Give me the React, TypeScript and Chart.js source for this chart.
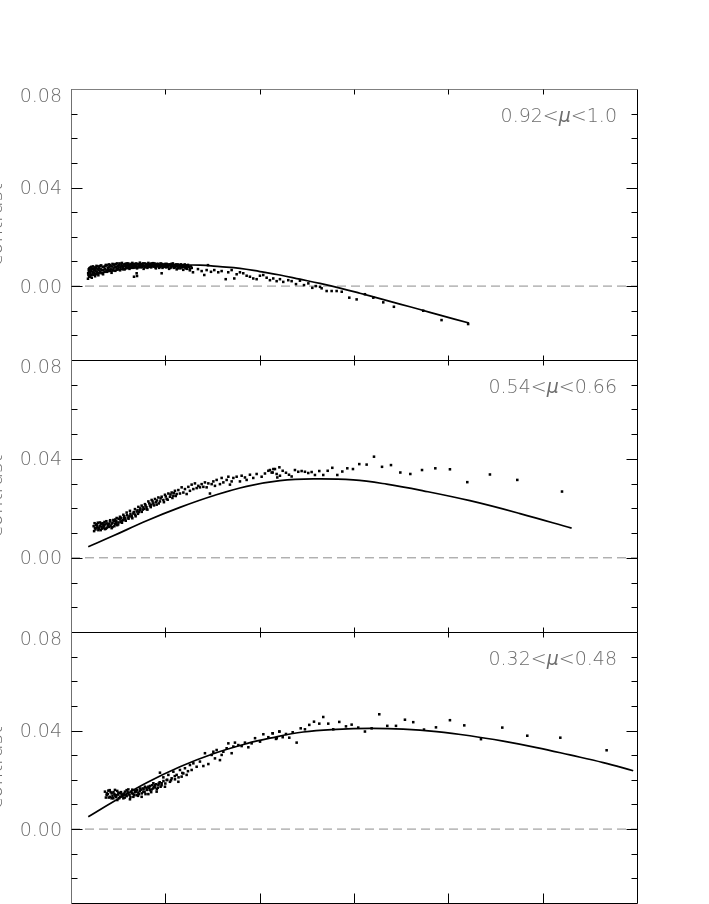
import React, { useEffect, useRef } from "react";
import { Chart, registerables } from "chart.js";

Chart.register(...registerables);

// ---------- axes ----------
const X_MIN = 0;
const X_MAX = 600;
const X_TICKS = [100, 200, 300, 400, 500];
const Y_MIN = -0.03;
const Y_MAX = 0.08;
const Y_MINOR_TICKS = [-0.02, -0.01, 0.0, 0.01, 0.02, 0.03, 0.04, 0.05, 0.06, 0.07];
const Y_MAJOR_TICKS = [0.0, 0.04];
const Y_TICK_LABELS = [0.08, 0.04, 0.0];
const Y_TITLE = "contrast";

// ---------- panel labels ----------
const PANEL_LABELS: string[][] = [
  ["0.92<", "μ", "<1.0"],
  ["0.54<", "μ", "<0.66"],
  ["0.32<", "μ", "<0.48"],
];

// ---------- panel 1 (0.92<mu<1.0) ----------
const P1_POINTS: number[][] = [
  [18, 0.003], [18.5, 0.0045], [19, 0.006], [19.5, 0.0072], [20, 0.0038], [20.5, 0.0052], [21, 0.0066],
  [21.5, 0.0078], [22, 0.0034], [23, 0.0058], [23.5, 0.007], [24, 0.0046], [25, 0.0076], [25.5, 0.004],
  [26, 0.0062], [27, 0.0082], [27.5, 0.005], [28, 0.0068], [29, 0.0044], [30, 0.0074], [31, 0.0056],
  [32, 0.0084], [33, 0.0064], [34, 0.0048], [35, 0.0078], [36, 0.007], [37, 0.0086], [38, 0.0058],
  [39, 0.0074], [40, 0.0088], [41, 0.0066], [42, 0.008], [43, 0.0054], [44, 0.009], [45, 0.0072],
  [46, 0.0084], [47, 0.0062], [48, 0.0078], [49, 0.0092], [50, 0.007], [51, 0.0086], [52, 0.0064],
  [53, 0.008], [54, 0.0094], [55, 0.0074], [56, 0.0088], [57, 0.0068], [58, 0.0082], [59, 0.0092],
  [60, 0.0076], [61, 0.0086], [62, 0.007], [63, 0.009], [64, 0.008], [65, 0.0094], [66, 0.0074],
  [67, 0.0086], [68, 0.0078], [69, 0.0092], [70, 0.0072], [71, 0.0088], [72, 0.0082], [73, 0.0095],
  [74, 0.0076], [75, 0.009], [76, 0.0084], [77, 0.007], [78, 0.0092], [79, 0.008], [80, 0.0088],
  [81, 0.0074], [82, 0.0094], [83, 0.0082], [84, 0.009], [85, 0.0076], [86, 0.0086], [87, 0.0093],
  [88, 0.0079], [89, 0.0088], [90, 0.0072], [91, 0.009], [92, 0.0082], [93, 0.0086], [94, 0.0078],
  [95, 0.0092], [96, 0.0084], [97, 0.0074], [98, 0.0088], [99, 0.008], [100, 0.009], [101, 0.0076],
  [102, 0.0086], [103, 0.0082], [104, 0.007], [105, 0.0088], [106, 0.0078], [107, 0.0084], [108, 0.0092],
  [109, 0.0074], [110, 0.0086], [111, 0.008], [112, 0.0068], [113, 0.0088], [114, 0.0076], [115, 0.0084],
  [116, 0.0072], [117, 0.0086], [118, 0.008], [119, 0.0066], [120, 0.0084], [121, 0.0076], [122, 0.0082],
  [123, 0.007], [124, 0.0086], [125, 0.0078], [126, 0.0064], [127, 0.008], [128, 0.0074],
  [18.2, 0.0052], [18.8, 0.0068], [19.3, 0.0038], [19.8, 0.0058], [20.3, 0.0075], [20.8, 0.0044],
  [21.3, 0.0061], [22.3, 0.007], [22.8, 0.0048], [23.3, 0.008], [24.3, 0.0064], [24.8, 0.0054],
  [25.3, 0.007], [26.3, 0.0048], [26.8, 0.0074], [27.3, 0.0058], [28.3, 0.008], [28.8, 0.0052],
  [29.3, 0.0066], [30.3, 0.006], [30.8, 0.0082], [31.5, 0.0068], [32.5, 0.0052], [33.5, 0.0078],
  [34.5, 0.0066], [35.5, 0.0058], [36.5, 0.0082], [37.5, 0.0064], [38.5, 0.0084], [39.5, 0.0066],
  [40.5, 0.0076], [41.5, 0.0086], [42.5, 0.0068], [43.5, 0.008], [44.5, 0.0064], [45.5, 0.0088],
  [46.5, 0.0076], [47.5, 0.009], [48.5, 0.007], [49.5, 0.0082], [50.5, 0.0078], [51.5, 0.0092],
  [52.5, 0.0074], [53.5, 0.0088], [54.5, 0.0082], [55.5, 0.0068], [56.5, 0.008], [57.5, 0.009],
  [58.5, 0.0074], [59.5, 0.0084], [60.5, 0.0092], [61.5, 0.0078], [62.5, 0.0084], [63.5, 0.0074],
  [64.5, 0.0088], [65.5, 0.0082], [66.5, 0.009], [67.5, 0.0076], [68.5, 0.0084], [69.5, 0.008],
  [70.5, 0.009], [71.5, 0.0076], [72.5, 0.0088], [73.5, 0.008], [74.5, 0.0086], [75.5, 0.0078],
  [76.5, 0.0092], [77.5, 0.0082], [78.5, 0.0076], [79.5, 0.009], [80.5, 0.008], [81.5, 0.0086],
  [82.5, 0.0078], [83.5, 0.0088], [84.5, 0.0082], [85.5, 0.0092], [86.5, 0.008], [87.5, 0.0085],
  [88.5, 0.0092], [89.5, 0.0076], [90.5, 0.0084], [91.5, 0.008], [92.5, 0.009], [93.5, 0.0074],
  [94.5, 0.0086], [95.5, 0.008], [96.5, 0.009], [97.5, 0.0082], [98.5, 0.0078], [99.5, 0.0086],
  [100.5, 0.0082], [101.5, 0.009], [102.5, 0.0078], [103.5, 0.0088], [104.5, 0.0084], [105.5, 0.0074],
  [106.5, 0.009], [107.5, 0.008], [108.5, 0.0086], [109.5, 0.0082], [110.5, 0.0076], [111.5, 0.0088],
  [112.5, 0.0082], [113.5, 0.0072], [114.5, 0.0086], [115.5, 0.008], [116.5, 0.0088], [117.5, 0.0076],
  [118.5, 0.0084], [119.5, 0.0078], [120.5, 0.0088], [121.5, 0.0072], [122.5, 0.0084],
  [66.8, 0.0038], [69.6, 0.0052], [70, 0.0041], [96.1, 0.0052],
  [122.6, 0.0078], [126.1, 0.0069], [129.3, 0.0056], [134.6, 0.0069], [138.5, 0.0061], [141.3, 0.0045],
  [143.8, 0.0065], [145.2, 0.0085], [148.4, 0.0058], [151.9, 0.0065], [156.1, 0.0056], [159.7, 0.0061],
  [164.0, 0.0028], [166.7, 0.0056], [170.3, 0.0065], [173.1, 0.0031], [175.6, 0.0048], [179.1, 0.0056],
  [182.6, 0.0052], [186.2, 0.0042], [189.7, 0.0038], [193.2, 0.0031], [196.8, 0.0028], [200.3, 0.0042],
  [203.8, 0.0045], [207.4, 0.0034], [210.9, 0.0024], [214.4, 0.0031], [218.0, 0.002], [221.5, 0.0028],
  [225.0, 0.0017], [230.3, 0.0024], [233.9, 0.002],
  [238.5, 0.0008], [242.7, 0.0022], [247.0, 0.0004], [251.6, 0.0011], [255.8, -0.0007], [259.4, 0.0],
  [264.0, -0.0003], [265.7, -0.0009], [271.0, -0.002], [276.3, -0.002], [281.6, -0.002], [287.0, -0.0023],
  [295.0, -0.0047], [302.8, -0.0054], [311.6, -0.0033], [320.5, -0.0047], [331.0, -0.0066],
  [342.3, -0.0084], [373.4, -0.01], [392.8, -0.0138], [421.0, -0.0154],
];
const P1_FIT: number[][] = [
  [18.0, 0.0041], [30.7, 0.0053], [51.9, 0.0067], [73.1, 0.0077], [94.3, 0.0083], [115.5, 0.0085],
  [136.7, 0.0085], [157.9, 0.0079], [179.1, 0.0072], [200.3, 0.0059], [221.5, 0.0045], [242.7, 0.0028],
  [263.9, 0.0011], [285.1, -0.0008], [306.3, -0.0029], [327.5, -0.0051], [348.7, -0.0073],
  [369.9, -0.0095], [391.1, -0.0118], [421.9, -0.015],
];

// ---------- panel 2 (0.54<mu<0.66) ----------
const P2_POINTS: number[][] = [
  [25.4, 0.012], [27.2, 0.0136], [29.0, 0.0112], [30.7, 0.0143], [32.5, 0.0126], [34.3, 0.0134],
  [36.0, 0.0116], [37.8, 0.0139], [39.6, 0.0128], [41.3, 0.0147], [43.1, 0.012], [44.9, 0.0153],
  [46.6, 0.0136], [48.4, 0.0161], [50.2, 0.0143], [51.9, 0.0166], [53.7, 0.015], [55.5, 0.0174],
  [57.2, 0.0155], [59.0, 0.0183], [60.8, 0.0163], [62.5, 0.019], [64.3, 0.017], [66.1, 0.0179],
  [67.8, 0.0197], [69.6, 0.0187], [71.4, 0.0206], [73.1, 0.0193], [74.9, 0.0211], [76.7, 0.0204],
  [78.4, 0.0217], [80.2, 0.0197], [82.0, 0.0228], [83.7, 0.0211], [85.5, 0.0234], [87.3, 0.022],
  [89.0, 0.0238], [90.8, 0.0215], [92.6, 0.0244], [94.3, 0.0228], [96.1, 0.0247], [97.9, 0.0234],
  [99.6, 0.0255], [101.4, 0.0238], [103.2, 0.026], [104.9, 0.0247], [106.7, 0.0264], [108.5, 0.0251],
  [110.2, 0.0271], [112.0, 0.0258], [113.8, 0.0274], [115.5, 0.026], [117.3, 0.0285], [119.1, 0.0264],
  [120.8, 0.0278], [122.6, 0.0258], [124.4, 0.0287], [126.1, 0.0271], [127.9, 0.0296], [129.7, 0.0278],
  [131.4, 0.0301], [133.2, 0.0282], [135.0, 0.0291], [136.7, 0.0285], [138.5, 0.0298], [140.3, 0.0287],
  [142.0, 0.0305], [143.8, 0.0285], [145.6, 0.0301], [147.3, 0.026], [149.1, 0.0298], [150.9, 0.0309],
  [152.6, 0.0291], [154.4, 0.0315], [157.9, 0.0298], [159.7, 0.0323], [161.5, 0.0305], [165.0, 0.0315],
  [166.8, 0.0328], [168.5, 0.0296], [170.3, 0.0309], [172.1, 0.0323], [175.6, 0.0328], [179.1, 0.0309],
  [180.9, 0.0332], [184.4, 0.0325], [186.2, 0.0315], [189.7, 0.0336], [193.2, 0.0323], [196.8, 0.0339],
  [202.1, 0.0328], [205.6, 0.0341], [209.2, 0.0352], [212.7, 0.0345], [214.5, 0.0359], [218.0, 0.0339],
  [220.9, 0.0366],
  [24, 0.0128], [26, 0.0115], [28, 0.013], [30, 0.0122], [32, 0.0138], [33, 0.0118], [35, 0.0128],
  [36, 0.0135], [38, 0.0122], [40, 0.0138], [42, 0.013], [44, 0.0142], [46, 0.0128], [48, 0.0148],
  [50, 0.0135], [52, 0.0155], [54, 0.0142], [56, 0.016], [58, 0.015], [62, 0.0168], [65, 0.016],
  [68, 0.0175], [72, 0.0185], [76, 0.0195], [80, 0.0205], [85, 0.0215], [90, 0.0225],
  [24.5, 0.0108], [25, 0.014], [26.5, 0.0132], [27.5, 0.0122], [28.5, 0.0142], [29.5, 0.0118],
  [31, 0.013], [31.5, 0.0112], [33.5, 0.014], [34.5, 0.0122], [35.5, 0.0145], [37, 0.0118],
  [37.5, 0.0148], [39, 0.0132], [40.5, 0.0125], [41.5, 0.0152], [43, 0.0138], [44, 0.0125],
  [45.5, 0.0148], [47, 0.0155], [47.5, 0.014], [49, 0.0132], [50.5, 0.0158], [52.5, 0.0145],
  [53, 0.0162], [55, 0.0152], [56.5, 0.0168], [57.5, 0.016], [59.5, 0.0172], [61, 0.0158],
  [63, 0.0178], [64.5, 0.0165], [66.5, 0.0185], [68.5, 0.0168], [70.5, 0.0192], [71, 0.0178],
  [73.5, 0.02], [75, 0.0186], [77.5, 0.0198], [79, 0.0212], [81, 0.0195], [83, 0.022],
  [84.5, 0.0205], [86.5, 0.0228], [88, 0.0212], [91, 0.0232], [93, 0.022], [95, 0.024],
  [98.5, 0.0225], [100.5, 0.0248], [102.5, 0.0235], [105.5, 0.0256], [107.5, 0.0242], [109, 0.0262],
  [111, 0.025],
  [210.9, 0.0355], [213.8, 0.0345], [216.2, 0.0359], [218.7, 0.0325], [221.5, 0.0332], [224.4, 0.0352],
  [227.9, 0.0344], [231.1, 0.0336], [233.9, 0.0329], [237.4, 0.0355], [240.9, 0.0348], [244.5, 0.0351],
  [248.0, 0.0348], [251.5, 0.0343], [255.1, 0.0347], [258.6, 0.0335], [263.2, 0.0351], [267.4, 0.0335],
  [272.1, 0.0352], [277.0, 0.0364], [282.3, 0.0335], [287.6, 0.0349], [292.9, 0.0362], [298.9, 0.0359],
  [305.6, 0.0379], [313.4, 0.0377], [321.2, 0.0409], [329.7, 0.0368], [339.2, 0.0375], [349.1, 0.0345],
  [359.7, 0.0339], [372.1, 0.0355], [386.2, 0.0362], [401.7, 0.0358], [420.1, 0.0306], [444.1, 0.0337],
  [473.1, 0.0315], [520.5, 0.0268],
];
const P2_FIT: number[][] = [
  [18.3, 0.0045], [44.8, 0.0089], [80.2, 0.015], [115.5, 0.0204], [150.8, 0.0251], [186.2, 0.0289],
  [221.5, 0.0312], [256.8, 0.0319], [299.2, 0.0315], [334.6, 0.0298], [373.4, 0.0271], [422.9, 0.0231],
  [476.0, 0.0179], [530.7, 0.012],
];

// ---------- panel 3 (0.32<mu<0.48) ----------
const P3_POINTS: number[][] = [
  [36.0, 0.0152], [37.8, 0.0138], [39.6, 0.0156], [41.3, 0.0131], [43.1, 0.0145], [44.9, 0.0125],
  [46.6, 0.0159], [47.7, 0.0138], [49.1, 0.0118], [50.2, 0.0148], [51.9, 0.0131], [53.7, 0.0141],
  [55.5, 0.0125], [57.2, 0.0152], [59.0, 0.0134], [60.8, 0.0161], [62.5, 0.0121], [64.3, 0.0145],
  [66.1, 0.0131], [67.8, 0.0156], [69.6, 0.0138], [71.4, 0.0148], [73.1, 0.0165], [74.9, 0.0131],
  [76.7, 0.0152], [78.4, 0.0172], [80.2, 0.0159], [82.0, 0.0142], [83.7, 0.0175], [85.5, 0.0161],
  [87.3, 0.0186], [89.0, 0.0169], [90.8, 0.0152], [92.6, 0.0179], [94.3, 0.0229], [96.1, 0.0186],
  [97.9, 0.021], [99.6, 0.0172], [101.4, 0.0199], [103.2, 0.022], [104.9, 0.0192], [106.7, 0.0206],
  [108.5, 0.0233], [110.2, 0.0202], [112.0, 0.022], [113.8, 0.0192], [115.5, 0.024], [117.3, 0.0213],
  [119.1, 0.0226], [120.8, 0.0247], [122.6, 0.022], [126.1, 0.026], [127.9, 0.024], [129.7, 0.0267],
  [133.2, 0.0253], [136.7, 0.0274], [140.3, 0.0256], [142.0, 0.0308], [145.6, 0.0264], [149.1, 0.0301],
  [150.9, 0.0314], [152.6, 0.0287], [154.4, 0.0321], [157.9, 0.028], [159.7, 0.0301], [161.5, 0.0314],
  [165.0, 0.0328], [166.8, 0.0348], [170.3, 0.0308], [172.1, 0.0335], [173.8, 0.0351], [177.4, 0.0341],
  [180.9, 0.0337], [184.4, 0.0351], [188.0, 0.0332], [191.5, 0.0348], [195.1, 0.0369], [200.4, 0.0355],
  [203.9, 0.0385], [209.2, 0.0373], [213.8, 0.0389], [218.1, 0.0369], [220.9, 0.0396],
  [38, 0.0145], [40, 0.0128], [42, 0.015], [44, 0.0135], [46, 0.0142], [48, 0.013], [50, 0.014],
  [52, 0.0146], [54, 0.0136], [56, 0.0144], [58, 0.014], [60, 0.015], [62, 0.0138], [64, 0.0152],
  [66, 0.0144], [68, 0.015], [70, 0.0158], [72, 0.0142], [74, 0.016], [76, 0.0165], [78, 0.015],
  [80, 0.0168], [82, 0.0172], [84, 0.0158], [86, 0.0178], [88, 0.0172], [90, 0.0182], [92, 0.0168],
  [94, 0.019], [96, 0.0178], [98, 0.0195], [100, 0.0185], [102, 0.02], [106, 0.0198], [110, 0.0215],
  [114, 0.021], [118, 0.0228], [124, 0.0235],
  [37, 0.0128], [39, 0.0142], [41, 0.0158], [43, 0.0125], [45, 0.015], [47, 0.0135], [49, 0.0155],
  [51, 0.0125], [53, 0.015], [55, 0.0138], [57, 0.0128], [59, 0.0158], [61, 0.0142], [63, 0.013],
  [65, 0.016], [67, 0.0138], [69, 0.0152], [71, 0.0135], [73, 0.0155], [75, 0.0145], [77, 0.0162],
  [79, 0.0142], [81, 0.016], [83, 0.0168], [85, 0.015], [87, 0.0165], [89, 0.0178], [91, 0.0162],
  [93, 0.0185], [95, 0.0172],
  [213.8, 0.0389], [217.3, 0.0366], [220.8, 0.0396], [224.4, 0.0373], [227.9, 0.0386], [231.4, 0.0371],
  [235.0, 0.0393], [239.2, 0.0351], [243.5, 0.0409], [248.0, 0.0405], [252.6, 0.0423], [257.6, 0.0436],
  [263.2, 0.0428], [267.4, 0.0455], [272.7, 0.0428], [278.0, 0.0405], [284.4, 0.0435], [291.5, 0.0417],
  [297.5, 0.0424], [304.5, 0.0412], [311.6, 0.0396], [318.7, 0.0409], [326.8, 0.0466], [335.3, 0.0419],
  [344.5, 0.0419], [354.0, 0.0444], [362.8, 0.0434], [374.2, 0.0404], [386.9, 0.0413], [401.7, 0.0442],
  [416.9, 0.0421], [434.6, 0.0365], [457.2, 0.0412], [483.7, 0.0379], [518.7, 0.0371], [567.8, 0.032],
];
const P3_FIT: number[][] = [
  [18.3, 0.005], [44.8, 0.0111], [80.2, 0.0188], [115.5, 0.0253], [150.8, 0.0306], [186.2, 0.0347],
  [210.9, 0.0369], [246.2, 0.0394], [281.6, 0.0405], [316.9, 0.0409], [352.2, 0.0406], [387.6, 0.0396],
  [422.9, 0.0379], [458.2, 0.0357], [493.6, 0.0331], [528.9, 0.0301], [564.2, 0.027], [596.0, 0.0237],
];

const ZERO_LINE: number[][] = [[X_MIN, 0], [X_MAX, 0]];

// ---------- layout (not data) ----------
const PANELS = [
  { top: 89, height: 271, points: P1_POINTS, fit: P1_FIT, label: PANEL_LABELS[0], topColor: "#808080", bottomTick: 5 },
  { top: 360, height: 272, points: P2_POINTS, fit: P2_FIT, label: PANEL_LABELS[1], topColor: "#000", bottomTick: 5 },
  { top: 632, height: 271, points: P3_POINTS, fit: P3_FIT, label: PANEL_LABELS[2], topColor: "#000", bottomTick: 10 },
];
const PAD = 10;
const W = 709;
const AREA_LEFT = 71;
const AREA_RIGHT = 637;
const FONT = '"DejaVu Sans", "Liberation Sans", sans-serif';
const GRAY = "#6e6e6e";

const toXY = (arr: number[][]) => arr.map(([x, y]) => ({ x, y }));

function makePlugin(panel: any, idx: number) {
  return {
    id: "frame" + idx,
    afterDraw(chart: any) {
      const { ctx, chartArea } = chart;
      const { left, right, top, bottom } = chartArea;
      const xs = chart.scales.x;
      const ys = chart.scales.y;
      const L = Math.round(left) + 0.5;
      const R = Math.round(right) + 0.5;
      const T = Math.round(top) + 0.5;
      const B = Math.round(bottom) + 0.5;
      ctx.save();
      ctx.lineWidth = 1;
      // frame
      ctx.strokeStyle = panel.topColor;
      ctx.beginPath(); ctx.moveTo(L, T); ctx.lineTo(R, T); ctx.stroke();
      ctx.strokeStyle = "#000";
      ctx.beginPath(); ctx.moveTo(L, B); ctx.lineTo(R, B); ctx.stroke();
      ctx.beginPath(); ctx.moveTo(R, T); ctx.lineTo(R, B); ctx.stroke();
      ctx.strokeStyle = "#707070";
      ctx.beginPath(); ctx.moveTo(L, T - 0.5); ctx.lineTo(L, B + 0.5); ctx.stroke();
      // y ticks (inward)
      ctx.strokeStyle = "#000";
      for (const v of Y_MINOR_TICKS) {
        const major = Y_MAJOR_TICKS.some((m) => Math.abs(m - v) < 1e-9);
        const len = major ? 11 : 6;
        const py = Math.round(ys.getPixelForValue(v)) + 0.5;
        ctx.beginPath(); ctx.moveTo(L, py); ctx.lineTo(L + len, py); ctx.stroke();
        ctx.beginPath(); ctx.moveTo(R, py); ctx.lineTo(R - len, py); ctx.stroke();
      }
      // x ticks (inward)
      for (const v of X_TICKS) {
        const px = Math.round(xs.getPixelForValue(v)) + 0.5;
        ctx.beginPath(); ctx.moveTo(px, T); ctx.lineTo(px, T + 5); ctx.stroke();
        ctx.beginPath(); ctx.moveTo(px, B); ctx.lineTo(px, B - panel.bottomTick); ctx.stroke();
      }
      // y tick labels
      ctx.fillStyle = GRAY;
      ctx.font = `200 19px ${FONT}`;
      ctx.textAlign = "right";
      ctx.textBaseline = "middle";
      for (const v of Y_TICK_LABELS) {
        const py = v >= Y_MAX - 1e-9 ? top + 8 : ys.getPixelForValue(v) + 1.5;
        ctx.fillText(v.toFixed(2), left - 9, py);
      }
      // y title (rotated, mostly off-canvas as in the reference)
      ctx.save();
      ctx.font = `200 20px ${FONT}`;
      ctx.textAlign = "center";
      ctx.textBaseline = "alphabetic";
      ctx.translate(2, (top + bottom) / 2);
      ctx.rotate(-Math.PI / 2);
      ctx.fillText(Y_TITLE, 0, 0);
      ctx.restore();
      // panel label, right aligned
      const parts: string[] = panel.label;
      const fonts = [`200 19px ${FONT}`, `italic 200 19px ${FONT}`, `200 19px ${FONT}`];
      const widths = parts.map((s, i) => { ctx.font = fonts[i]; return ctx.measureText(s).width; });
      const total = widths.reduce((a, b) => a + b, 0);
      let x0 = right - 20 - total;
      ctx.textAlign = "left";
      ctx.textBaseline = "middle";
      const ly = top + 28.5;
      parts.forEach((s, i) => { ctx.font = fonts[i]; ctx.fillText(s, x0, ly); x0 += widths[i]; });
      ctx.restore();
    },
  };
}

function makeConfig(panel: any, idx: number): any {
  return {
    type: "scatter",
    data: {
      datasets: [
        {
          data: toXY(panel.points),
          pointStyle: "rect",
          pointRadius: 1.8,
          pointBorderWidth: 0,
          backgroundColor: "#000",
          borderColor: "#000",
        },
        {
          data: toXY(panel.fit),
          showLine: true,
          pointRadius: 0,
          borderColor: "#000",
          borderWidth: 1.7,
          tension: 0.4,
        },
        {
          data: toXY(ZERO_LINE),
          showLine: true,
          pointRadius: 0,
          borderColor: "#8c8c8c",
          borderWidth: 1,
          borderDash: [9, 5],
        },
      ],
    },
    options: {
      animation: false,
      responsive: false,
      devicePixelRatio: 1,
      layout: { padding: { left: AREA_LEFT, right: W - AREA_RIGHT, top: PAD, bottom: PAD } },
      plugins: { legend: { display: false }, tooltip: { enabled: false }, title: { display: false } },
      events: [],
      scales: {
        x: { type: "linear", min: X_MIN, max: X_MAX, display: false },
        y: { type: "linear", min: Y_MIN, max: Y_MAX, display: false },
      },
    },
    plugins: [makePlugin(panel, idx)],
  };
}

export default function App() {
  const r0 = useRef<HTMLCanvasElement>(null);
  const r1 = useRef<HTMLCanvasElement>(null);
  const r2 = useRef<HTMLCanvasElement>(null);
  const refs = [r0, r1, r2];
  useEffect(() => {
    const charts = PANELS.map((p, i) => new Chart(refs[i].current as HTMLCanvasElement, makeConfig(p, i)));
    return () => charts.forEach((c) => c.destroy());
  }, []);
  return (
    <div style={{ position: "absolute", left: 0, top: 0, width: W, height: 904, overflow: "hidden", background: "#fff" }}>
      {PANELS.map((p, i) => (
        <canvas
          key={i}
          ref={refs[i]}
          width={W}
          height={p.height + 2 * PAD}
          style={{ position: "absolute", left: 0, top: p.top - PAD, width: W, height: p.height + 2 * PAD }}
        />
      ))}
    </div>
  );
}
